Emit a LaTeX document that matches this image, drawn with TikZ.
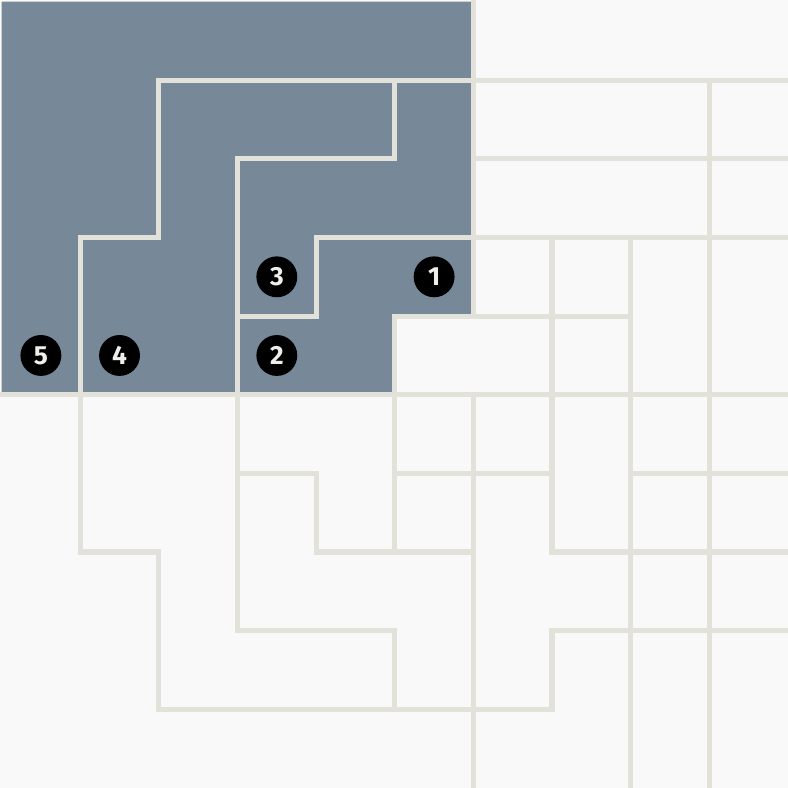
\documentclass[tikz,border=0pt]{standalone}
\usepackage{fontspec}
\setsansfont{Fira Sans}
\definecolor{bgc}{HTML}{F9F9F9}
\definecolor{darkc}{HTML}{778899}
\definecolor{linec}{HTML}{E2E2DB}
\definecolor{txtc}{HTML}{EEEEEA}
\tikzset{
  gridline/.style={draw=linec, line width=1.9pt, line cap=rect, line join=miter},
  badge/.style={circle, fill=black, minimum size=0.52cm, inner sep=0pt,
    text=txtc, font=\sffamily\bfseries\fontsize{9.5}{11}\selectfont}
}
\begin{document}
\begin{tikzpicture}[x=1cm, y=-1cm]
\fill[bgc] (-0.02,-0.02) rectangle (10.0,10.0);
\useasboundingbox (-0.02,-0.02) rectangle (10.0,10.0);
\fill[darkc] (0,0) -- (6,0) -- (6,4) -- (5,4) -- (5,5) -- (0,5) -- cycle;
\draw[gridline] (2,1) -- (10,1);
\draw[gridline] (2,1) -- (2,3) -- (1,3) -- (1,7) -- (2,7) -- (2,9) -- (7,9) -- (7,8) -- (10,8);
\draw[gridline] (5,1) -- (5,2) -- (3,2) -- (3,8) -- (5,8) -- (5,9);
\draw[gridline] (3,4) -- (4,4) -- (4,3) -- (10,3);
\draw[gridline] (6,0) -- (6,4);
\draw[gridline] (5,7) -- (5,4) -- (8,4);
\draw[gridline] (0,5) -- (10,5);
\draw[gridline] (6,2) -- (10,2);
\draw[gridline] (9,1) -- (9,10);
\draw[gridline] (7,3) -- (7,7) -- (10,7);
\draw[gridline] (8,3) -- (8,10);
\draw[gridline] (5,6) -- (7,6);
\draw[gridline] (6,5) -- (6,10);
\draw[gridline] (8,6) -- (10,6);
\draw[gridline] (3,6) -- (4,6) -- (4,7) -- (6,7);
\node[badge] (n1) at (5.5,3.5) {1};
\node[badge] (n2) at (3.5,4.5) {2};
\node[badge] (n3) at (3.5,3.5) {3};
\node[badge] (n4) at (1.5,4.5) {4};
\node[badge] (n5) at (0.5,4.5) {5};
\end{tikzpicture}
\end{document}
